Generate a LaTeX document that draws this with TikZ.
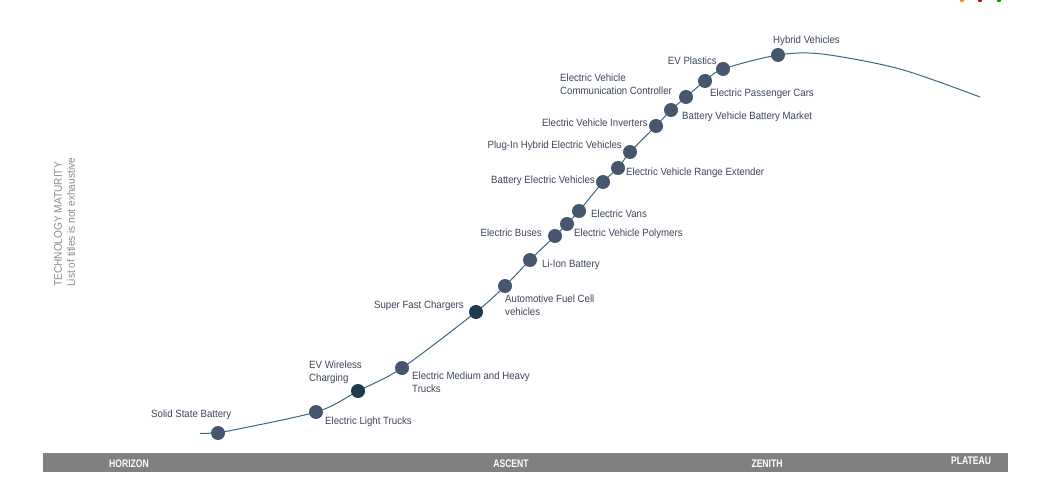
\documentclass[tikz,border=0pt]{standalone}
\usepackage{fontspec}
\setmainfont{Liberation Sans}[FakeStretch=0.92]
\newfontfamily\barfont{Liberation Sans}[FakeStretch=0.78]
\usetikzlibrary{backgrounds}

\definecolor{dotblue}{HTML}{47566F}
\definecolor{dotdark}{HTML}{1D3B4C}
\definecolor{curveblue}{HTML}{3A6680}
\definecolor{txtgray}{HTML}{3B4658}
\definecolor{bargray}{HTML}{808080}
\definecolor{sidegray}{HTML}{8A8A8A}

\begin{document}
\begin{tikzpicture}[x=1pt, y=-1pt,
    dot_node/.style={circle, fill=dotblue, inner sep=0pt, minimum size=14pt},
    dark_node/.style={dot_node, fill=dotdark},
    tag_node/.style={inner sep=0pt, text=txtgray, align=left, font=\fontsize{10.5}{13}\selectfont},
    bar_node/.style={inner sep=0pt, text=white, font=\barfont\bfseries\fontsize{11}{11}\selectfont},
    side_node/.style={inner sep=0pt, text=sidegray, rotate=90, anchor=west, font=\fontsize{11}{13}\selectfont}]

    \useasboundingbox (0,0) rectangle (1062,478);

    % logo marks, cut at the top edge
    \fill[orange!90!yellow] (962,0) circle (2.2);
    \fill[red!85!black] (980,0) circle (2.2);
    \fill[green!60!black] (999,0) circle (2.2);

    % side texts
    \node[side_node] (title) at (58,287) {TECHNOLOGY MATURITY};
    \node[side_node] (note) at (71,287) {List of titles is not exhaustive};

    % dots on the curve
    \node[dot_node] (ssb) at (218,433) {};
    \node[dot_node] (elt) at (316,412) {};
    \node[dark_node] (evwc) at (358,391) {};
    \node[dot_node] (emht) at (402,368) {};
    \node[dark_node] (sfc) at (476,312) {};
    \node[dot_node] (afc) at (505,286) {};
    \node[dot_node] (lib) at (530,260) {};
    \node[dot_node] (eb) at (555,236) {};
    \node[dot_node] (evp) at (567,224) {};
    \node[dot_node] (ev) at (579,211) {};
    \node[dot_node] (bev) at (603,182) {};
    \node[dot_node] (evre) at (618,168) {};
    \node[dot_node] (phev) at (630,152) {};
    \node[dot_node] (evi) at (656,126) {};
    \node[dot_node] (bvbm) at (671,110) {};
    \node[dot_node] (evcc) at (686,97) {};
    \node[dot_node] (epc) at (705,81) {};
    \node[dot_node] (evpl) at (723,69) {};
    \node[dot_node] (hv) at (778,55) {};

    \coordinate (start) at (200,433.5);
    \coordinate (top) at (822,54);
    \coordinate (mid) at (900,69);
    \coordinate (stop) at (980,97);

    \begin{scope}[on background layer]
        \draw[curveblue, line width=1pt] (start) -- (ssb.center);
        \draw[curveblue, line width=1pt] plot[smooth, tension=0.5] coordinates
            {(ssb) (elt) (evwc) (emht) (sfc) (afc) (lib) (eb) (evp) (ev) (bev)
             (evre) (phev) (evi) (bvbm) (evcc) (epc) (evpl) (hv) (top) (mid) (stop)};
    \end{scope}

    % labels
    \node[tag_node, anchor=west] (ssb-l) at (151,415) {Solid State Battery};
    \node[tag_node, anchor=west] (elt-l) at (325,422) {Electric Light Trucks};
    \node[tag_node, anchor=west] (evwc-l) at (309,372.5) {EV Wireless\\Charging};
    \node[tag_node, anchor=west] (emht-l) at (412,382.5) {Electric Medium and Heavy\\Trucks};
    \node[tag_node, anchor=east] (sfc-l) at (464,306) {Super Fast Chargers};
    \node[tag_node, anchor=west] (afc-l) at (505,305.5) {Automotive Fuel Cell\\vehicles};
    \node[tag_node, anchor=west] (lib-l) at (542,265) {Li-Ion Battery};
    \node[tag_node, anchor=east] (eb-l) at (542,233) {Electric Buses};
    \node[tag_node, anchor=west] (evp-l) at (574,234) {Electric Vehicle Polymers};
    \node[tag_node, anchor=west] (ev-l) at (591,214) {Electric Vans};
    \node[tag_node, anchor=east] (bev-l) at (595,181) {Battery Electric Vehicles};
    \node[tag_node, anchor=west] (evre-l) at (626,173) {Electric Vehicle Range Extender};
    \node[tag_node, anchor=east] (phev-l) at (622,146) {Plug-In Hybrid Electric Vehicles};
    \node[tag_node, anchor=east] (evi-l) at (648,123) {Electric Vehicle Inverters};
    \node[tag_node, anchor=west] (bvbm-l) at (682,117) {Battery Vehicle Battery Market};
    \node[tag_node, anchor=west] (evcc-l) at (560,84) {Electric Vehicle\\Communication Controller};
    \node[tag_node, anchor=west] (epc-l) at (710,94) {Electric Passenger Cars};
    \node[tag_node, anchor=east] (evpl-l) at (717,61) {EV Plastics};
    \node[tag_node, anchor=west] (hv-l) at (773,41) {Hybrid Vehicles};

    % stage bar
    \fill[bargray] (43,453) rectangle (1008,472);
    \node[bar_node] (horizon) at (129,464) {HORIZON};
    \node[bar_node] (ascent) at (511,464) {ASCENT};
    \node[bar_node] (zenith) at (767,464) {ZENITH};
    \node[bar_node] (plateau) at (971,461) {PLATEAU};

\end{tikzpicture}
\end{document}
